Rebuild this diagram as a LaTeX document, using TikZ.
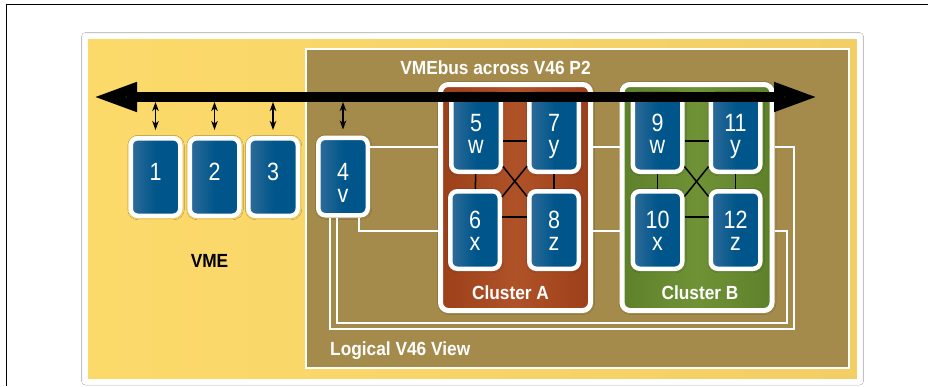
\documentclass[tikz,border=0pt]{standalone}
\usepackage{fontspec}
\setmainfont{Liberation Sans}
\newfontfamily\modfont[FakeStretch=0.86]{Liberation Sans}
\newfontfamily\headfont[FakeStretch=0.91]{Liberation Sans}
\usetikzlibrary{arrows.meta,shadows.blur}

\definecolor{yelL}{RGB}{252,218,106}
\definecolor{yelR}{RGB}{242,206,100}
\definecolor{olive}{RGB}{165,139,75}
\definecolor{blueL}{RGB}{48,108,154}
\definecolor{blueD}{RGB}{0,86,138}
\definecolor{rustD}{RGB}{156,64,26}
\definecolor{rustL}{RGB}{176,82,40}
\definecolor{grnD}{RGB}{94,128,42}
\definecolor{grnL}{RGB}{112,146,54}

\tikzset{
  soft/.style={blur shadow={shadow xshift=0.5pt, shadow yshift=-0.5pt,
      shadow blur radius=3.5pt, shadow opacity=45}},
  module/.style={draw=white, line width=4.5pt, rounded corners=7pt,
      minimum width=49.5pt, minimum height=77.5pt, inner sep=0pt,
      left color=blueL, right color=blueD, middle color=blueD, soft},
  cluster/.style={draw=white, line width=5pt, rounded corners=8pt,
      minimum width=150pt, minimum height=226pt, inner sep=0pt, soft},
  mtext/.style={text=white, align=center, inner sep=0pt,
      font=\modfont\fontsize{25}{22}\selectfont},
  head/.style={text=white, inner sep=0pt,
      font=\headfont\bfseries\fontsize{19}{22}\selectfont},
  wire/.style={draw=white, line width=2pt},
  link/.style={draw=black, line width=1.5pt},
  bus/.style={line width=10pt,
      {Triangle[length=44pt,width=27pt]}-{Triangle[length=44pt,width=27pt]}},
  tap/.style={line width=1.3pt,
      {Stealth[length=9pt,width=6.5pt,inset=2.5pt]}-{Stealth[length=9pt,width=6.5pt,inset=2.5pt]},
      shorten <=5pt, shorten >=6pt}
}

\begin{document}
\begin{tikzpicture}[x=1pt,y=-1pt]
\useasboundingbox (0,0) rectangle (928,386);

% page, frame and the two panels
\fill[white] (0,0) rectangle (928,386);
\draw[line width=1pt] (6,386) |- (928,4);
\draw[white, line width=5pt, left color=yelL, right color=yelR,
      blur shadow={shadow xshift=0pt, shadow yshift=0pt,
      shadow blur radius=4pt, shadow opacity=30}]
      (85.5,36.5) rectangle (859.5,381);
\draw[white, line width=2pt, fill=olive] (306,49) rectangle (849,368);

% clusters
\node[cluster, left color=rustD, right color=rustD, middle color=rustL] (cA) at (515.5,197.5) {};
\node[cluster, left color=grnD, right color=grnD, middle color=grnL] (cB) at (697,197.5) {};

% VME boards
\node[module, label={[mtext, yshift=5pt]center:1}] (m1) at (155.5,177) {};
\node[module, label={[mtext, yshift=5pt]center:2}] (m2) at (214.5,177) {};
\node[module, label={[mtext, yshift=5pt]center:3}] (m3) at (273,177) {};
\node[module, label={[mtext, yshift=-6pt]center:{4\\\smash{v}}}] (m4) at (343,176.5) {};

% V46 boards, cluster A
\node[module, label={[mtext, yshift=-1pt]center:{5\\\smash{w}}}] (m5) at (476,133) {};
\node[module, label={[mtext, yshift=-1pt]center:{6\\\smash{x}}}] (m6) at (475,230) {};
\node[module, label={[mtext, yshift=-1pt]center:{7\\\smash{y}}}] (m7) at (554,133) {};
\node[module, label={[mtext, yshift=-1pt]center:{8\\\smash{z}}}] (m8) at (554,230) {};

% V46 boards, cluster B
\node[module, label={[mtext, yshift=-1pt]center:{9\\\smash{w}}}] (m9) at (657.5,133) {};
\node[module, label={[mtext, yshift=-1pt]center:{10\\\smash{x}}}] (m10) at (657.5,230) {};
\node[module, label={[mtext, yshift=-1pt]center:{11\\\smash{y}}}] (m11) at (735.5,133) {};
\node[module, label={[mtext, yshift=-1pt]center:{12\\\smash{z}}}] (m12) at (735.5,230) {};

% routing levels of the white links
\coordinate (yTop) at (0,147);
\coordinate (yBot) at (0,231);
\coordinate (drop4) at (359,231);
\coordinate (oR) at (794,329);
\coordinate (oL) at (330,329);
\coordinate (iR) at (787,323);
\coordinate (iL) at (337,323);

\draw[wire] (m4.east |- yTop) -- (cA.west |- yTop);
\draw[wire] (drop4 |- m4.south) -- (drop4) -- (cA.west |- drop4);
\draw[wire] (cA.east |- yTop) -- (cB.west |- yTop);
\draw[wire] (cA.east |- yBot) -- (cB.west |- yBot);
\draw[wire] (cB.east |- yTop) -| (oR) -- (oL) -- (oL |- m4.south);
\draw[wire] (cB.east |- yBot) -| (iR) -- (iL) -- (iL |- m4.south);

% full mesh inside each cluster
\draw[link] (m5) -- (m6);
\draw[link] (m7) -- (m8);
\draw[link] ([yshift=-8pt]m5.east) -- ([yshift=-8pt]m7.west);
\draw[link] ([yshift=13pt]m6.east) -- ([yshift=13pt]m8.west);
\draw[link] (m5) -- (m8);
\draw[link] (m7) -- (m6);
\draw[link] (m9) -- (m10);
\draw[link] (m11) -- (m12);
\draw[link] ([yshift=-8pt]m9.east) -- ([yshift=-8pt]m11.west);
\draw[link] ([yshift=13pt]m10.east) -- ([yshift=13pt]m12.west);
\draw[link] (m9) -- (m12);
\draw[link] (m11) -- (m10);

% texts
\node[head, anchor=base] (tBus) at (495.5,74) {VMEbus across V46 P2};
\node[head, anchor=base west] (tView) at (330,355) {Logical V46 View};
\node[head, text=black, anchor=base] (tVME) at (209.5,267) {VME};
\node[head, anchor=base] (tA) at (510.5,299) {Cluster A};
\node[head, anchor=base] (tB) at (700,299) {Cluster B};

% the bus and its taps
\coordinate (busL) at (93,97);
\coordinate (busR) at (818,97);
\draw[bus] (busL) -- (busR);
\draw[tap] (m1.north |- busL) -- (m1.north);
\draw[tap] (m2.north |- busL) -- (m2.north);
\draw[tap] (m3.north |- busL) -- (m3.north);
\draw[tap] (m4.north |- busL) -- (m4.north);
\end{tikzpicture}
\end{document}
